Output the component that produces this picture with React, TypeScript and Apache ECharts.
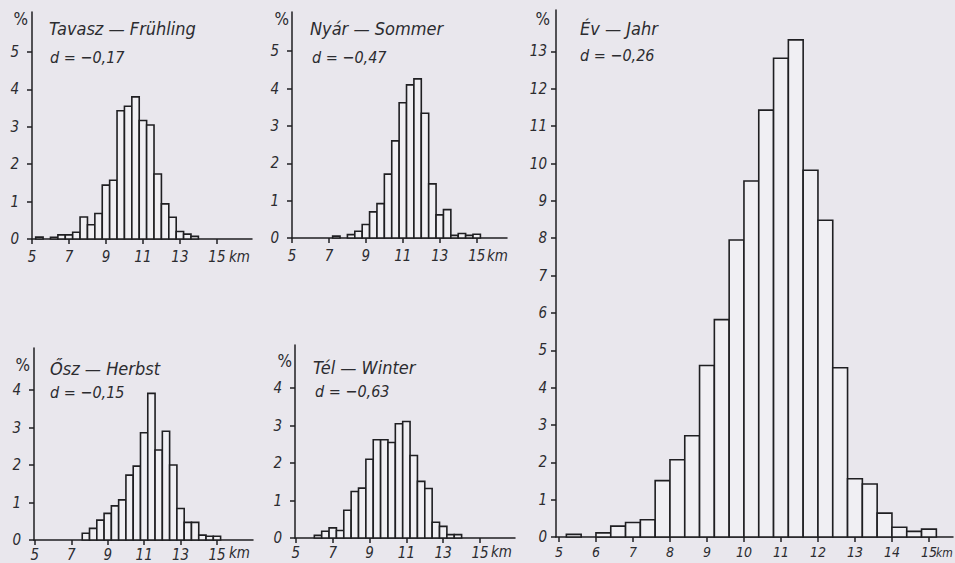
import React, { useEffect, useRef } from 'react';
import * as echarts from 'echarts';

// Bin lower edges (km), each bin is 0.4 km wide
const binStarts = [5.2, 5.6, 6.0, 6.4, 6.8, 7.2, 7.6, 8.0, 8.4, 8.8, 9.2, 9.6, 10.0, 10.4, 10.8, 11.2, 11.6, 12.0, 12.4, 12.8, 13.2, 13.6, 14.0, 14.4, 14.8];
const binWidth = 0.4;

// Percent frequencies per bin
const springPct = [0.05, 0, 0.045, 0.11, 0.11, 0.18, 0.59, 0.38, 0.68, 1.44, 1.57, 3.43, 3.55, 3.8, 3.17, 3.05, 1.74, 0.94, 0.58, 0.2, 0.13, 0.07, 0, 0, 0];
const summerPct = [0, 0, 0, 0, 0, 0.05, 0, 0.09, 0.18, 0.36, 0.7, 0.92, 1.71, 2.6, 3.62, 4.1, 4.26, 3.34, 1.45, 0.62, 0.76, 0.07, 0.12, 0.07, 0.1];
const autumnPct = [0, 0, 0, 0, 0, 0, 0.18, 0.31, 0.53, 0.71, 0.91, 1.07, 1.73, 1.97, 2.86, 3.91, 2.4, 2.9, 2.0, 0.84, 0.47, 0.47, 0.13, 0.1, 0.1];
const winterPct = [0, 0, 0.07, 0.18, 0.27, 0.2, 0.74, 1.24, 1.33, 2.1, 2.62, 2.62, 2.55, 3.05, 3.11, 2.2, 1.51, 1.32, 0.42, 0.31, 0.09, 0.09, 0, 0, 0];
const yearPct = [0.07, 0, 0.11, 0.29, 0.39, 0.46, 1.51, 2.07, 2.71, 4.59, 5.82, 7.95, 9.53, 11.43, 12.82, 13.31, 9.82, 8.48, 4.53, 1.56, 1.42, 0.64, 0.26, 0.15, 0.21];

// Tick labels
const smallXTicks = [5, 7, 9, 11, 13, 15];
const yearXTicks = [5, 6, 7, 8, 9, 10, 11, 12, 13, 14, 15];
const smallYTicks5 = [0, 1, 2, 3, 4, 5];
const smallYTicks4 = [0, 1, 2, 3, 4];
const yearYTicks = [0, 1, 2, 3, 4, 5, 6, 7, 8, 9, 10, 11, 12, 13];

const titles = ['Tavasz — Frühling', 'Nyár — Sommer', 'Ősz — Herbst', 'Tél — Winter', 'Év — Jahr'];
const dLabels = ['d = −0,17', 'd = −0,47', 'd = −0,15', 'd = −0,63', 'd = −0,26'];

const BG = '#e9e7ed';
const BAR_FILL = '#f0eff3';
const LINE = '#1f1f22';
const TEXT = '#2c2c30';
const FONT = "'Liberation Sans Narrow', 'DejaVu Sans Condensed', 'DejaVu Sans', sans-serif";

const panels = [
  { pct: springPct, grid: { left: 32, top: 12, width: 220, height: 227 }, xMin: 5, xMax: 16.9, yMax: 6.07, xTicks: smallXTicks, yTicks: smallYTicks5, titlePos: [49, 28], dPos: [50, 57], pctPos: [28, 19], kmPos: [229, 257], yMargin: 13, xMargin: 10, xFont: 15, kmFont: 15 },
  { pct: summerPct, grid: { left: 292, top: 12, width: 215, height: 226 }, xMin: 5, xMax: 16.64, yMax: 6.05, xTicks: smallXTicks, yTicks: smallYTicks5, titlePos: [310, 28], dPos: [312, 57], pctPos: [289, 19], kmPos: [487, 256], yMargin: 13, xMargin: 10, xFont: 15, kmFont: 15 },
  { pct: autumnPct, grid: { left: 34, top: 348, width: 219, height: 192 }, xMin: 4.95, xMax: 16.98, yMax: 5.12, xTicks: smallXTicks, yTicks: smallYTicks4, titlePos: [50, 368], dPos: [50, 392], pctPos: [30, 365], kmPos: [229, 553], yMargin: 13, xMargin: 7, xFont: 15, kmFont: 15 },
  { pct: winterPct, grid: { left: 295, top: 345, width: 220, height: 193 }, xMin: 4.95, xMax: 16.9, yMax: 5.15, xTicks: smallXTicks, yTicks: smallYTicks4, titlePos: [313, 367], dPos: [315, 391], pctPos: [292, 361], kmPos: [491, 552], yMargin: 13, xMargin: 7, xFont: 15, kmFont: 15 },
  { pct: yearPct, grid: { left: 556, top: 10, width: 397, height: 527 }, xMin: 4.92, xMax: 15.65, yMax: 14.11, xTicks: yearXTicks, yTicks: yearYTicks, titlePos: [580, 28], dPos: [580, 55], pctPos: [550, 19], kmPos: [936, 553], yMargin: 9, xMargin: 8, xFont: 14, kmFont: 12 },
];

export default function App() {
  const ref = useRef<HTMLDivElement>(null);
  useEffect(() => {
    if (!ref.current) return;
    const chart = echarts.init(ref.current, null, { renderer: 'svg' });
    const labelStyle = { color: TEXT, fontSize: 15, fontStyle: 'italic' as const, fontFamily: FONT };
    const lineStyle = { color: LINE, width: 1.5 };
    const graphic: any[] = [];
    panels.forEach((p, i) => {
      graphic.push({ type: 'text', x: p.titlePos[0], y: p.titlePos[1], silent: true, style: { text: titles[i], fill: TEXT, fontSize: 18, fontStyle: 'italic', fontFamily: FONT, verticalAlign: 'middle', align: 'left' } });
      graphic.push({ type: 'text', x: p.dPos[0], y: p.dPos[1], silent: true, style: { text: dLabels[i], fill: TEXT, fontSize: 16, fontStyle: 'italic', fontFamily: FONT, verticalAlign: 'middle', align: 'left' } });
      graphic.push({ type: 'text', x: p.pctPos[0], y: p.pctPos[1], silent: true, style: { text: '%', fill: TEXT, fontSize: 17, fontFamily: FONT, verticalAlign: 'middle', align: 'right' } });
      graphic.push({ type: 'text', x: p.kmPos[0], y: p.kmPos[1], silent: true, style: { text: 'km', fill: TEXT, fontSize: p.kmFont, fontStyle: 'italic', fontFamily: FONT, verticalAlign: 'middle', align: 'left' } });
    });
    const option: any = {
      animation: false,
      backgroundColor: BG,
      grid: panels.map((p) => ({ ...p.grid, containLabel: false })),
      xAxis: panels.map((p, i) => ({
        type: 'value', gridIndex: i, min: p.xMin, max: p.xMax,
        axisLine: { show: true, onZero: false, lineStyle },
        splitLine: { show: false },
        axisTick: { show: true, customValues: p.xTicks, length: 5, lineStyle },
        axisLabel: { ...labelStyle, fontSize: p.xFont, customValues: p.xTicks, margin: p.xMargin },
      })),
      yAxis: panels.map((p, i) => ({
        type: 'value', gridIndex: i, min: 0, max: p.yMax,
        axisLine: { show: true, onZero: false, lineStyle },
        splitLine: { show: false },
        axisTick: { show: true, customValues: p.yTicks, length: 5, lineStyle },
        axisLabel: { ...labelStyle, customValues: p.yTicks, margin: p.yMargin },
      })),
      series: panels.map((p, i) => ({
        type: 'custom', xAxisIndex: i, yAxisIndex: i,
        data: binStarts.map((b, j) => [b, p.pct[j]]).filter((d) => d[1] > 0),
        encode: { x: 0, y: 1 },
        renderItem: (params: any, api: any) => {
          const lo = api.value(0);
          const v = api.value(1);
          const a = api.coord([lo, v]);
          const b = api.coord([lo + binWidth, 0]);
          return {
            type: 'rect',
            shape: { x: a[0], y: a[1], width: b[0] - a[0], height: b[1] - a[1] },
            style: { fill: BAR_FILL, stroke: LINE, lineWidth: 1.6 },
          };
        },
      })),
      graphic,
    };
    chart.setOption(option);
    return () => chart.dispose();
  }, []);
  return <div ref={ref} style={{ position: 'absolute', left: 0, top: 0, width: 955, height: 563 }} />;
}
